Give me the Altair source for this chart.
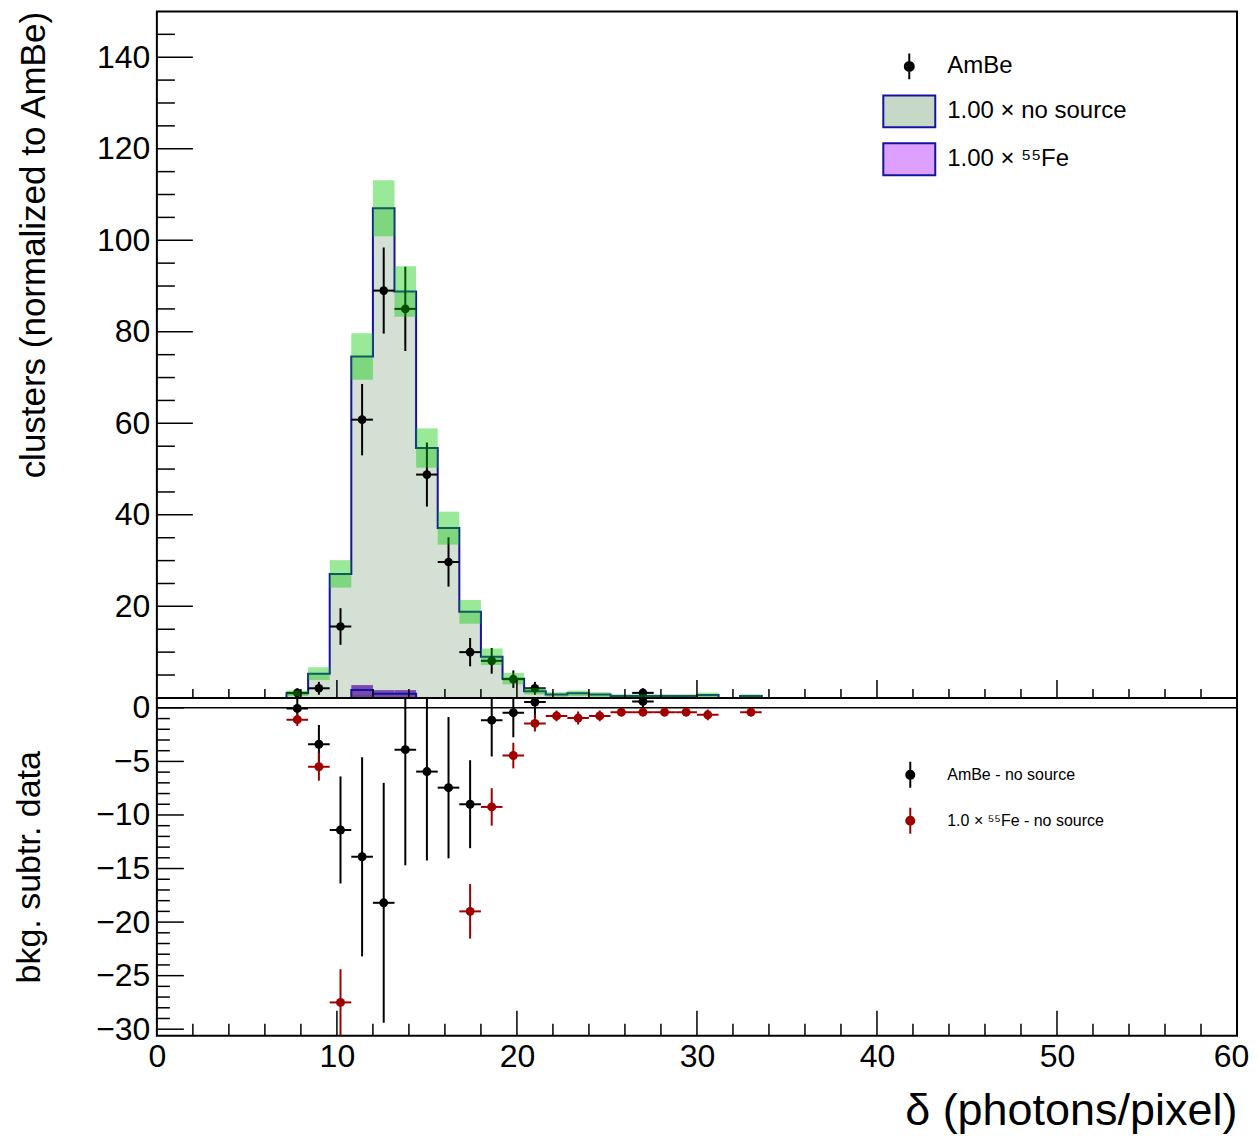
import altair as alt
import pandas as pd

# ---------------- data ----------------
BIN_W = 1.2
CENTERS = [7.8, 9.0, 10.2, 11.4, 12.6, 13.8, 15.0, 16.2, 17.4, 18.6, 19.8, 21.0,
           22.2, 23.4, 24.6, 25.8, 27.0, 28.2, 29.4, 30.6, 31.8, 33.0]
NOSRC = [1.0, 5.3, 27.1, 74.6, 107.0, 88.8, 54.6, 37.1, 18.8, 9.0, 4.2, 1.45,
         0.75, 1.0, 0.75, 0.4, 0.4, 0.4, 0.4, 0.65, 0.0, 0.4]
NOSRC_ERR = [0.6, 1.4, 3.0, 5.1, 6.1, 5.5, 4.3, 3.6, 2.6, 1.8, 1.25, 0.7,
             0.5, 0.6, 0.5, 0.4, 0.4, 0.4, 0.4, 0.5, 0.0, 0.4]

FE_CENTERS = [11.4, 12.6, 13.8]
FE55 = [1.7, 0.9, 0.9]
FE55_ERR = [1.1, 0.8, 0.8]

AMBE_X = [7.8, 9.0, 10.2, 11.4, 12.6, 13.8, 15.0, 16.2, 17.4, 18.6, 19.8, 21.0, 27.0]
AMBE = [1.1, 2.1, 15.6, 60.8, 89.0, 85.0, 48.8, 29.7, 10.0, 8.1, 4.1, 2.1, 1.1]
AMBE_ERR = [1.0, 1.4, 4.0, 7.8, 9.4, 9.2, 7.0, 5.4, 3.1, 2.8, 1.9, 1.4, 1.0]

DIFF = [-0.05, -3.4, -11.4, -13.9, -18.2, -3.9, -5.95, -7.45, -9.0, -1.15, -0.45, 0.55, 0.6]
DIFF_ERR = [1.1, 1.8, 5.0, 9.3, 11.2, 10.8, 8.3, 6.6, 4.1, 3.4, 2.3, 1.5, 1.0]

RED_X = [7.8, 9.0, 10.2, 11.4, 12.6, 13.8, 15.0, 16.2, 17.4, 18.6, 19.8, 21.0,
         22.2, 23.4, 24.6, 25.8, 27.0, 28.2, 29.4, 30.6, 33.0]
RED = [-1.1, -5.5, -27.5, -73.0, -106.0, -88.0, -54.7, -37.2, -19.0, -9.25, -4.45, -1.45,
       -0.75, -0.95, -0.75, -0.4, -0.4, -0.4, -0.4, -0.65, -0.4]
RED_ERR = [0.6, 1.3, 3.1, 5.2, 6.1, 5.5, 4.3, 3.6, 2.55, 1.75, 1.2, 0.75,
           0.5, 0.6, 0.5, 0.4, 0.4, 0.4, 0.4, 0.5, 0.4]

X_LABELS = [0, 10, 20, 30, 40, 50, 60]
Y_TOP_LABELS = [20, 40, 60, 80, 100, 120, 140]
Y_LOW_LABELS = [-30, -25, -20, -15, -10, -5, 0]
X_TICKS = list(range(2, 60, 2))
Y_TOP_TICKS = list(range(5, 150, 5))
Y_LOW_TICKS = list(range(-30, 1))

TOP_LEGEND = ["AmBe", "1.00 \u00d7 no source", "1.00 \u00d7 \u2075\u2075Fe"]
LOW_LEGEND = ["AmBe - no source", "1.0 \u00d7 \u2075\u2075Fe - no source"]

# ---------------- styling ----------------
FONT = "Liberation Sans"
W, H_TOP, H_LOW = 1081, 687, 338
BLUE = "#1414a0"
FILL = "#d3e0d3"
GREEN = "#00c800"
PURPLE = "#6e3d9e"
RED_C = "#a00000"

xs = alt.Scale(domain=[0, 60], nice=False, zero=False)
ys_top = alt.Scale(domain=[0, 150], nice=False, zero=False)
ys_low = alt.Scale(domain=[-30.6, 0.93], nice=False, zero=False)

ax_top_y = alt.Axis(values=Y_TOP_LABELS, labelFontSize=32, labelFont=FONT, labelColor="black",
                    labelPadding=7, ticks=False, tickSize=0, domain=False, grid=False,
                    title="clusters (normalized to AmBe)", titleFontSize=35, titleFont=FONT,
                    titleFontWeight="normal", titleColor="black", titlePadding=41,
                    titleAnchor="end", minExtent=64, maxExtent=64)
ax_low_y = alt.Axis(values=Y_LOW_LABELS, labelFontSize=32, labelFont=FONT, labelColor="black",
                    labelPadding=7, ticks=False, tickSize=0, domain=False, grid=False,
                    title="bkg. subtr. data", titleFontSize=34, titleFont=FONT,
                    titleFontWeight="normal", titleColor="black", titlePadding=46,
                    minExtent=64, maxExtent=64)
ax_low_x = alt.Axis(values=X_LABELS, labelFontSize=32, labelFont=FONT, labelColor="black",
                    labelPadding=6, labelFlush=False,
                    labelOffset={"condition": {"test": "datum.value == 60", "value": -6}, "value": 0},
                    ticks=False, tickSize=0, domain=False,
                    grid=False, title="\u03b4 (photons/pixel)", titleFontSize=45, titleFont=FONT,
                    titleFontWeight="normal", titleColor="black", titleAnchor="end",
                    titlePadding=16)


def XT(f):
    return alt.X(f, type="quantitative", scale=xs, axis=None)


def YT(f):
    return alt.Y(f, type="quantitative", scale=ys_top, axis=ax_top_y)


def XL(f):
    return alt.X(f, type="quantitative", scale=xs, axis=ax_low_x)


def YL(f):
    return alt.Y(f, type="quantitative", scale=ys_low, axis=ax_low_y)


# ---------------- tables ----------------
hist = pd.DataFrame({"c": CENTERS, "h": NOSRC, "e": NOSRC_ERR})
hist["lo"] = hist["c"] - BIN_W / 2
hist["hi"] = hist["c"] + BIN_W / 2
hist["b0"] = hist["h"] - hist["e"]
hist["b1"] = hist["h"] + hist["e"]
hist["z"] = 0.0
band = hist[hist["h"] > 0]

step_rows = [(hist["lo"].iloc[0], 0.0)] + list(zip(hist["lo"], hist["h"])) + [(hist["hi"].iloc[-1], 0.0)]
step = pd.DataFrame(step_rows, columns=["x", "y"])
step["i"] = range(len(step))

fe = pd.DataFrame({"c": FE_CENTERS, "h": FE55, "e": FE55_ERR})
fe["lo"] = fe["c"] - BIN_W / 2
fe["hi"] = fe["c"] + BIN_W / 2
fe["b0"] = (fe["h"] - fe["e"]).clip(lower=0)
fe["b1"] = fe["h"] + fe["e"]
fe["z"] = 0.0
fe_rows = [(fe["lo"].iloc[0], 0.0)] + list(zip(fe["lo"], fe["h"])) + [(fe["hi"].iloc[-1], 0.0)]
fe_step = pd.DataFrame(fe_rows, columns=["x", "y"])
fe_step["i"] = range(len(fe_step))


def pts(xv, yv, ev):
    d = pd.DataFrame({"x": xv, "y": yv, "e": ev})
    d["y0"] = d["y"] - d["e"]
    d["y1"] = d["y"] + d["e"]
    d["x0"] = d["x"] - BIN_W / 2
    d["x1"] = d["x"] + BIN_W / 2
    return d


ambe = pts(AMBE_X, AMBE, AMBE_ERR)
diff = pts(AMBE_X, DIFF, DIFF_ERR)
red = pts(RED_X, RED, RED_ERR)

# ---------------- top panel ----------------
nos_fill = alt.Chart(hist).mark_rect(color=FILL, stroke=FILL, strokeWidth=1, clip=True).encode(
    x=XT("lo"), x2="hi", y=YT("z"), y2="h")
fe_fill = alt.Chart(fe).mark_rect(color=PURPLE, clip=True).encode(
    x=XT("lo"), x2="hi", y=YT("z"), y2="h")
fe_band = alt.Chart(fe).mark_rect(color="#7a4aae", clip=True).encode(
    x=XT("lo"), x2="hi", y=YT("b0"), y2="b1")
nos_line = alt.Chart(step).mark_line(color=BLUE, strokeWidth=2, interpolate="step-after", clip=True).encode(
    x=XT("x"), y=YT("y"), order="i:Q")
fe_line = alt.Chart(fe_step).mark_line(color=BLUE, strokeWidth=2, interpolate="step-after", clip=True).encode(
    x=XT("x"), y=YT("y"), order="i:Q")
amb_v = alt.Chart(ambe).mark_rule(color="black", strokeWidth=2, clip=True).encode(
    x=XT("x"), y=YT("y0"), y2="y1")
amb_h = alt.Chart(ambe).mark_rule(color="black", strokeWidth=2, clip=True).encode(
    x=XT("x0"), x2="x1", y=YT("y"))
amb_p = alt.Chart(ambe).mark_point(filled=True, color="black", size=75, opacity=1, clip=True).encode(
    x=XT("x"), y=YT("y"))
g_band = alt.Chart(band).mark_rect(color=GREEN, opacity=0.4, clip=True).encode(
    x=XT("lo"), x2="hi", y=YT("b0"), y2="b1")

xt_major_top = alt.Chart(pd.DataFrame({"v": [v for v in X_TICKS if v % 10 == 0]})).mark_rule(
    color="black", strokeWidth=1.5).encode(x=XT("v"), y=alt.value(H_TOP), y2=alt.value(H_TOP - 18))
xt_minor_top = alt.Chart(pd.DataFrame({"v": [v for v in X_TICKS if v % 10 != 0]})).mark_rule(
    color="black", strokeWidth=1.5).encode(x=XT("v"), y=alt.value(H_TOP), y2=alt.value(H_TOP - 9))
yt_major_top = alt.Chart(pd.DataFrame({"v": [v for v in Y_TOP_TICKS if v % 20 == 0]})).mark_rule(
    color="black", strokeWidth=1.5).encode(y=YT("v"), x=alt.value(0), x2=alt.value(36))
yt_minor_top = alt.Chart(pd.DataFrame({"v": [v for v in Y_TOP_TICKS if v % 20 != 0]})).mark_rule(
    color="black", strokeWidth=1.5).encode(y=YT("v"), x=alt.value(0), x2=alt.value(18))

AMBE_SYM = "M-0.28,0A0.28,0.28 0 1,1 0.28,0A0.28,0.28 0 1,1 -0.28,0ZM0,-0.81L0,0.81"
BOX_SYM = "M-1.625,-1L1.625,-1L1.625,1L-1.625,1Z"
leg_top = alt.Legend(title=None, orient="none", legendX=736, legendY=38, labelFontSize=24,
                     labelFont=FONT, labelColor="black", symbolSize=1024, symbolStrokeWidth=2,
                     symbolOpacity=1, rowPadding=8, labelOffset=21, labelLimit=500)
top_leg = alt.Chart(pd.DataFrame({"entry": TOP_LEGEND})).mark_point(filled=True, opacity=0, size=1).encode(
    x=alt.value(W / 2), y=alt.value(H_TOP / 2),
    shape=alt.Shape("entry:N", scale=alt.Scale(domain=TOP_LEGEND, range=[AMBE_SYM, BOX_SYM, BOX_SYM]),
                    legend=leg_top),
    fill=alt.Fill("entry:N", scale=alt.Scale(domain=TOP_LEGEND, range=["black", "#c6d9c6", "#dda0ff"]),
                  legend=leg_top),
    stroke=alt.Stroke("entry:N", scale=alt.Scale(domain=TOP_LEGEND, range=["black", BLUE, BLUE]),
                      legend=leg_top),
)

top = alt.layer(nos_fill, fe_fill, fe_band, nos_line, fe_line, amb_v, amb_h, amb_p, g_band,
                xt_major_top, xt_minor_top, yt_major_top, yt_minor_top, top_leg).properties(
    width=W, height=H_TOP)

# ---------------- lower panel ----------------
zero = alt.Chart(pd.DataFrame({"v": [0.0]})).mark_rule(color="black", strokeWidth=1.5).encode(y=YL("v"))
xt_major_low = alt.Chart(pd.DataFrame({"v": [v for v in X_TICKS if v % 10 == 0]})).mark_rule(
    color="black", strokeWidth=1.5).encode(x=XL("v"), y=alt.value(H_LOW), y2=alt.value(H_LOW - 25))
xt_minor_low = alt.Chart(pd.DataFrame({"v": [v for v in X_TICKS if v % 10 != 0]})).mark_rule(
    color="black", strokeWidth=1.5).encode(x=XL("v"), y=alt.value(H_LOW), y2=alt.value(H_LOW - 12))
yt_major_low = alt.Chart(pd.DataFrame({"v": [v for v in Y_LOW_TICKS if v % 5 == 0]})).mark_rule(
    color="black", strokeWidth=1.5).encode(y=YL("v"), x=alt.value(0), x2=alt.value(27))
yt_minor_low = alt.Chart(pd.DataFrame({"v": [v for v in Y_LOW_TICKS if v % 5 != 0]})).mark_rule(
    color="black", strokeWidth=1.5).encode(y=YL("v"), x=alt.value(0), x2=alt.value(13))


def err_layers(d, col):
    v = alt.Chart(d).mark_rule(color=col, strokeWidth=2, clip=True).encode(x=XL("x"), y=YL("y0"), y2="y1")
    h = alt.Chart(d).mark_rule(color=col, strokeWidth=2, clip=True).encode(x=XL("x0"), x2="x1", y=YL("y"))
    p = alt.Chart(d).mark_point(filled=True, color=col, size=80, opacity=1, clip=True).encode(
        x=XL("x"), y=YL("y"))
    return [v, h, p]


LOW_SYM = "M-0.31,0A0.31,0.31 0 1,1 0.31,0A0.31,0.31 0 1,1 -0.31,0ZM0,-1L0,1"
leg_low = alt.Legend(title=None, orient="none", legendX=740, legendY=63, labelFontSize=16,
                     labelFont=FONT, labelColor="black", symbolSize=676, symbolStrokeWidth=2,
                     symbolOpacity=1, rowPadding=12, labelOffset=23, labelLimit=500)
low_leg = alt.Chart(pd.DataFrame({"entry2": LOW_LEGEND})).mark_point(filled=True, opacity=0, size=1).encode(
    x=alt.value(W / 2), y=alt.value(H_LOW / 2),
    shape=alt.Shape("entry2:N", scale=alt.Scale(domain=LOW_LEGEND, range=[LOW_SYM, LOW_SYM]), legend=leg_low),
    fill=alt.Fill("entry2:N", scale=alt.Scale(domain=LOW_LEGEND, range=["black", RED_C]), legend=leg_low),
    stroke=alt.Stroke("entry2:N", scale=alt.Scale(domain=LOW_LEGEND, range=["black", RED_C]), legend=leg_low),
)

low = alt.layer(zero, xt_major_low, xt_minor_low, yt_major_low, yt_minor_low,
                *err_layers(diff, "black"), *err_layers(red, RED_C), low_leg).properties(
    width=W, height=H_LOW)

chart = alt.vconcat(top, low, spacing=0, bounds="flush").resolve_scale(
    x="independent", y="independent", shape="independent", fill="independent", stroke="independent"
).resolve_legend(shape="independent", fill="independent", stroke="independent").properties(
    padding={"left": 4, "top": 1, "right": 0, "bottom": 0},
    background="white",
).configure_view(stroke="black", strokeWidth=2).configure_concat(spacing=0)

chart.save("out.html", embed_options={"renderer": "svg", "actions": False})
